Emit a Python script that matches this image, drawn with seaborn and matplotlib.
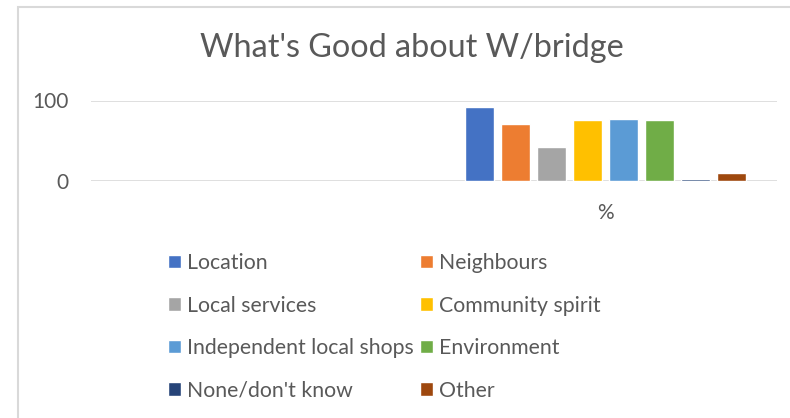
import matplotlib
matplotlib.use("Agg")
import matplotlib.pyplot as plt
import matplotlib.patches as mpatches
import seaborn as sns
import pandas as pd
import numpy as np

# ---- data ----
categories = ["", "%"]
series = ["Location", "Neighbours", "Local services", "Community spirit",
          "Independent local shops", "Environment", "None/don't know", "Other"]
values_blank = [np.nan] * 8
values_pct = [92.5, 71, 42, 75.5, 77, 75.5, 1.3, 9]
colors = ["#4472C4", "#ED7D31", "#A5A5A5", "#FFC000",
          "#5B9BD5", "#70AD47", "#264478", "#9E480E"]
title = "What's Good about W/bridge"
y_ticks = [0, 100]

rows = []
for s, v in zip(series, values_blank):
    rows.append({"cat": categories[0], "series": s, "value": v})
for s, v in zip(series, values_pct):
    rows.append({"cat": categories[1], "series": s, "value": v})
df = pd.DataFrame(rows)

sns.set_theme(style="white")
plt.rcParams["font.family"] = ["Lato", "DejaVu Sans"]
txt = "#595959"

W, H = 790, 418
fig = plt.figure(figsize=(W / 100, H / 100), dpi=100)
ax = fig.add_axes([91 / W, 1 - 180.5 / H, (777 - 91) / W, 80 / H])

sns.barplot(data=df, x="cat", y="value", hue="series", order=categories,
            hue_order=series, palette=colors, width=0.84, gap=0.195,
            saturation=1, ax=ax, errorbar=None, legend=True)

ax.set_ylim(0, 100)
ax.set_xlim(-0.5, 1.5)
ax.set_yticks(y_ticks)
ax.set_yticklabels([str(t) for t in y_ticks])
ax.set_xlabel("")
ax.set_ylabel("")
for sp in ax.spines.values():
    sp.set_visible(False)
ax.grid(False)
for t in y_ticks:
    ax.axhline(t, color="#D9D9D9", lw=1.2, zorder=0)
ax.tick_params(axis="y", length=0, pad=16, labelsize=15, labelcolor=txt)
ax.tick_params(axis="x", length=0, pad=16, labelsize=15, labelcolor=txt)
ax.set_facecolor("none")

# legend below, row-major order as in the reference
handles, labels = ax.get_legend_handles_labels()
ax.get_legend().remove()
order = [0, 2, 4, 6, 1, 3, 5, 7]
fig.legend([handles[i] for i in order], [labels[i] for i in order],
           ncol=2, loc="upper left", bbox_to_anchor=(168 / W, 1 - 253 / H),
           frameon=False, fontsize=15.3, labelcolor=txt, borderpad=0,
           borderaxespad=0, handlelength=0.62, handleheight=0.62,
           handletextpad=0.28, columnspacing=0.3, labelspacing=1.06)

fig.text(412 / W, 1 - 48 / H, title, ha="center", va="center",
         fontsize=23.3, color=txt)

# chart border (partially visible in reference)
fig.patches.append(mpatches.Rectangle((18 / W, -0.1), 1.2, 1 - 6.5 / H + 0.1,
                                      transform=fig.transFigure, fill=False,
                                      edgecolor="#D9D9D9", lw=1.5))

fig.savefig("out.png", dpi=100, facecolor="white")
